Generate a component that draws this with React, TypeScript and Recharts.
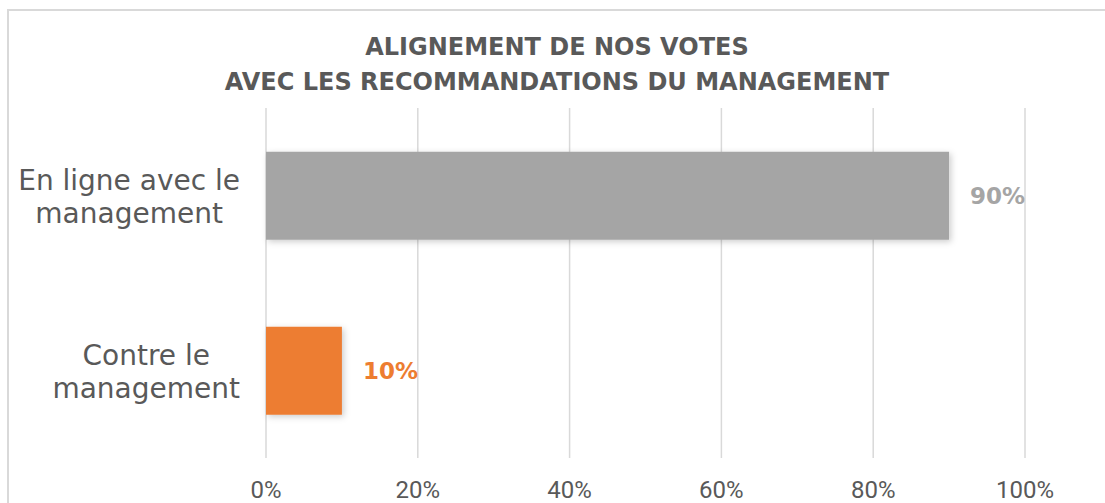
import { BarChart, Bar, XAxis, YAxis, CartesianGrid, LabelList } from "recharts";

const categories = ["En ligne avec le management", "Contre le management"];
const categoryLines = [
  ["En ligne avec le", "management"],
  ["Contre le", "management"],
];
const values = [0.9, 0.1];
const barColors = ["#a5a5a5", "#ed7d31"];
const xTicks = [0, 0.2, 0.4, 0.6, 0.8, 1];
const titleLines = [
  "ALIGNEMENT DE NOS VOTES",
  "AVEC LES RECOMMANDATIONS DU MANAGEMENT",
];

const data = categories.map((name, i) => ({ name, value: values[i] }));

const pct = (v: number) => `${Math.round(v * 100)}%`;

const Y_FONT = "28px DejaVu Sans";
let measureCtx: CanvasRenderingContext2D | null = null;
const textWidth = (s: string) => {
  if (!measureCtx) measureCtx = document.createElement("canvas").getContext("2d");
  if (!measureCtx) return s.length * 14;
  measureCtx.font = Y_FONT;
  return measureCtx.measureText(s).width;
};

// lines are centred within their block, and the block is right-aligned
const YTick = (props: any) => {
  const { y, payload } = props;
  const idx = categories.indexOf(payload.value);
  const lines = categoryLines[idx] || [payload.value];
  const blockW = Math.max(...lines.map(textWidth));
  const cx = 231 - blockW / 2;
  return (
    <g>
      {lines.map((line, i) => (
        <text
          key={i}
          x={cx}
          y={y + (i === 0 ? -15 : 18)}
          textAnchor="middle"
          dominantBaseline="central"
          fontFamily="DejaVu Sans"
          fontSize={28}
          fill="#595959"
        >
          {line}
        </text>
      ))}
    </g>
  );
};

const XTick = (props: any) => {
  const { x, y, payload } = props;
  return (
    <text
      x={x}
      y={y + 24}
      textAnchor="middle"
      dominantBaseline="central"
      fontFamily="Liberation Sans Narrow, Roboto"
      fontSize={24}
      fill="#595959"
    >
      {pct(payload.value)}
    </text>
  );
};

const BarShape = (props: any) => {
  const { x, y, width, height, index } = props;
  return (
    <rect
      x={x}
      y={y}
      width={width}
      height={height}
      fill={barColors[index]}
      filter="url(#barShadow)"
    />
  );
};

const ValueLabel = (props: any) => {
  const { x, y, width, height, value, index } = props;
  return (
    <text
      x={x + width + 21}
      y={y + height / 2}
      textAnchor="start"
      dominantBaseline="central"
      fontFamily="DejaVu Sans"
      fontWeight="bold"
      fontSize={23}
      fill={barColors[index] ?? (value > 0.5 ? barColors[0] : barColors[1])}
    >
      {pct(value)}
    </text>
  );
};

export default function App() {
  return (
    <div
      style={{
        position: "fixed",
        left: 7,
        top: 9,
        width: 1096,
        height: 492,
        borderTop: "2px solid #d9d9d9",
        borderLeft: "2px solid #d9d9d9",
        background: "#fff",
      }}
    >
      <div
        style={{
          position: "absolute",
          left: 0,
          top: 18.5,
          width: 1096,
          textAlign: "center",
          fontFamily: "DejaVu Sans",
          fontWeight: "bold",
          fontSize: 24,
          lineHeight: "35px",
          color: "#595959",
        }}
      >
        {titleLines.map((t) => (
          <div key={t}>{t}</div>
        ))}
      </div>
      <BarChart
        width={1096}
        height={492}
        data={data}
        layout="vertical"
        barCategoryGap="25%"
        margin={{ top: 97, right: 80, bottom: 0, left: 0 }}
        style={{ position: "absolute", left: 0, top: 0 }}
      >
        <defs>
          <filter id="barShadow" x="-10%" y="-20%" width="130%" height="150%">
            <feDropShadow dx="2" dy="2" stdDeviation="3" floodColor="#000" floodOpacity="0.2" />
          </filter>
        </defs>
        <CartesianGrid horizontal={false} stroke="#d9d9d9" strokeWidth={1.5} />
        <XAxis
          type="number"
          domain={[0, 1]}
          ticks={xTicks}
          axisLine={false}
          tickLine={false}
          height={45}
          tick={<XTick />}
          interval={0}
        />
        <YAxis
          type="category"
          dataKey="name"
          width={257}
          axisLine={false}
          tickLine={false}
          tick={<YTick />}
        />
        <Bar dataKey="value" isAnimationActive={false} shape={<BarShape />}>
          <LabelList dataKey="value" content={<ValueLabel />} />
        </Bar>
      </BarChart>
    </div>
  );
}
